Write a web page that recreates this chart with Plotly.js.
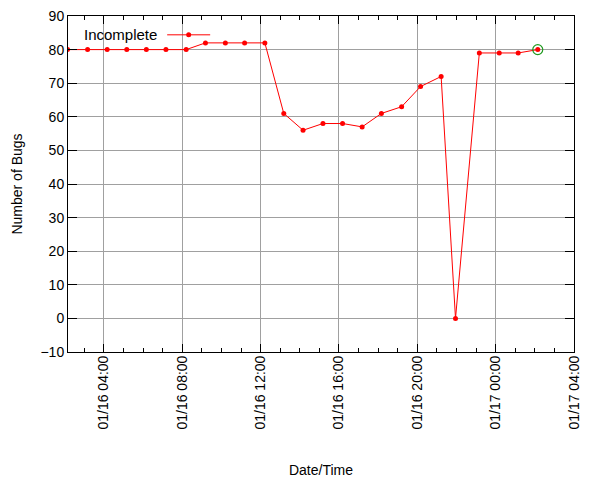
<!DOCTYPE html>
<html>
<head>
<meta charset="utf-8">
<script src="https://cdn.plot.ly/plotly-3.0.1.min.js"></script>
<style>html,body{margin:0;padding:0;background:#fff;}#chart{width:600px;height:480px;}</style>
</head>
<body>
<div id="chart"></div>
<script>
// Data
const times = [
  '2013-01-16 01:10', '2013-01-16 02:09',
  '2013-01-16 03:10', '2013-01-16 04:10', '2013-01-16 05:10', '2013-01-16 06:10',
  '2013-01-16 07:10', '2013-01-16 08:12', '2013-01-16 09:11', '2013-01-16 10:12',
  '2013-01-16 11:11', '2013-01-16 12:13', '2013-01-16 13:11', '2013-01-16 14:10',
  '2013-01-16 15:11', '2013-01-16 16:11', '2013-01-16 17:11', '2013-01-16 18:10',
  '2013-01-16 19:12', '2013-01-16 20:10', '2013-01-16 21:13', '2013-01-16 21:57',
  '2013-01-16 23:10', '2013-01-17 00:11', '2013-01-17 01:09', '2013-01-17 02:09'
];
const incomplete = [
  80, 80,
  80, 80, 80, 80,
  80, 80, 82, 82,
  82, 82, 61, 56,
  58, 58, 57, 61,
  63, 69, 72, 0,
  79, 79, 79, 80
];
const seriesName = 'Incomplete';
const xRange = ['2013-01-16 02:10', '2013-01-17 04:00'];
const yRange = [-10, 90];
const xTitle = 'Date/Time';
const yTitle = 'Number of Bugs';

const lastX = [times[times.length - 1]];
const lastY = [incomplete[incomplete.length - 1]];

const red = '#ff0000';
const font = 'Liberation Sans, Arial, sans-serif';

const traces = [
  {
    x: times, y: incomplete, type: 'scatter', mode: 'lines+markers', name: seriesName,
    line: {color: red, width: 1},
    marker: {color: red, size: 5},
    showlegend: false
  },
  {
    x: lastX, y: lastY, type: 'scatter', mode: 'markers',
    marker: {symbol: 'circle-open', color: '#1f9a1f', size: 10, line: {width: 1.2, color: '#1f9a1f'}},
    showlegend: false, hoverinfo: 'skip'
  }
];

const legX0 = 0.196, legX1 = 0.281, legY = 0.944, legMid = 0.2385;

const layout = {
  width: 600, height: 480,
  margin: {l: 68, r: 26, t: 16, b: 128},
  paper_bgcolor: '#fff', plot_bgcolor: '#fff',
  font: {family: font, size: 14, color: '#000'},
  showlegend: false,
  xaxis: {
    type: 'date', range: xRange,
    tick0: '2013-01-16 00:00', dtick: 4 * 3600000,
    tickformat: '%m/%d %H:%M', tickangle: -90,
    tickfont: {size: 14, family: font},
    ticks: 'inside', ticklen: 8, tickcolor: '#000', tickwidth: 1,
    ticklabelstandoff: -3,
    minor: {dtick: 3600000, ticks: 'inside', ticklen: 4, tickcolor: '#000', showgrid: false},
    showline: true, linecolor: '#000', linewidth: 1, mirror: 'allticks',
    showgrid: true, gridcolor: '#a0a0a0', gridwidth: 1,
    zeroline: false,
    title: {text: xTitle, font: {size: 14, family: font}, standoff: 36}
  },
  yaxis: {
    range: yRange, dtick: 10, tick0: 0,
    tickfont: {size: 14, family: font},
    ticks: 'inside', ticklen: 9, tickcolor: '#000', tickwidth: 1,
    showline: true, linecolor: '#000', linewidth: 1, mirror: 'allticks',
    showgrid: true, gridcolor: '#a0a0a0', gridwidth: 1,
    zeroline: false,
    title: {text: yTitle, font: {size: 14, family: font}, standoff: 14}
  },
  annotations: [{
    xref: 'paper', yref: 'paper', x: 0.18, y: legY, xanchor: 'right', yanchor: 'middle',
    text: seriesName, showarrow: false, font: {size: 15, family: font, color: '#000'}
  }],
  shapes: [
    {type: 'line', xref: 'paper', yref: 'paper', x0: legX0, x1: legX1, y0: legY, y1: legY,
     line: {color: red, width: 1}},
    {type: 'circle', xref: 'paper', yref: 'paper', xsizemode: 'pixel', ysizemode: 'pixel',
     xanchor: legMid, yanchor: legY, x0: -2.5, x1: 2.5, y0: -2.5, y1: 2.5,
     fillcolor: red, line: {color: red, width: 0}}
  ]
};

Plotly.newPlot('chart', traces, layout, {displayModeBar: false, staticPlot: true});
</script>
</body>
</html>
